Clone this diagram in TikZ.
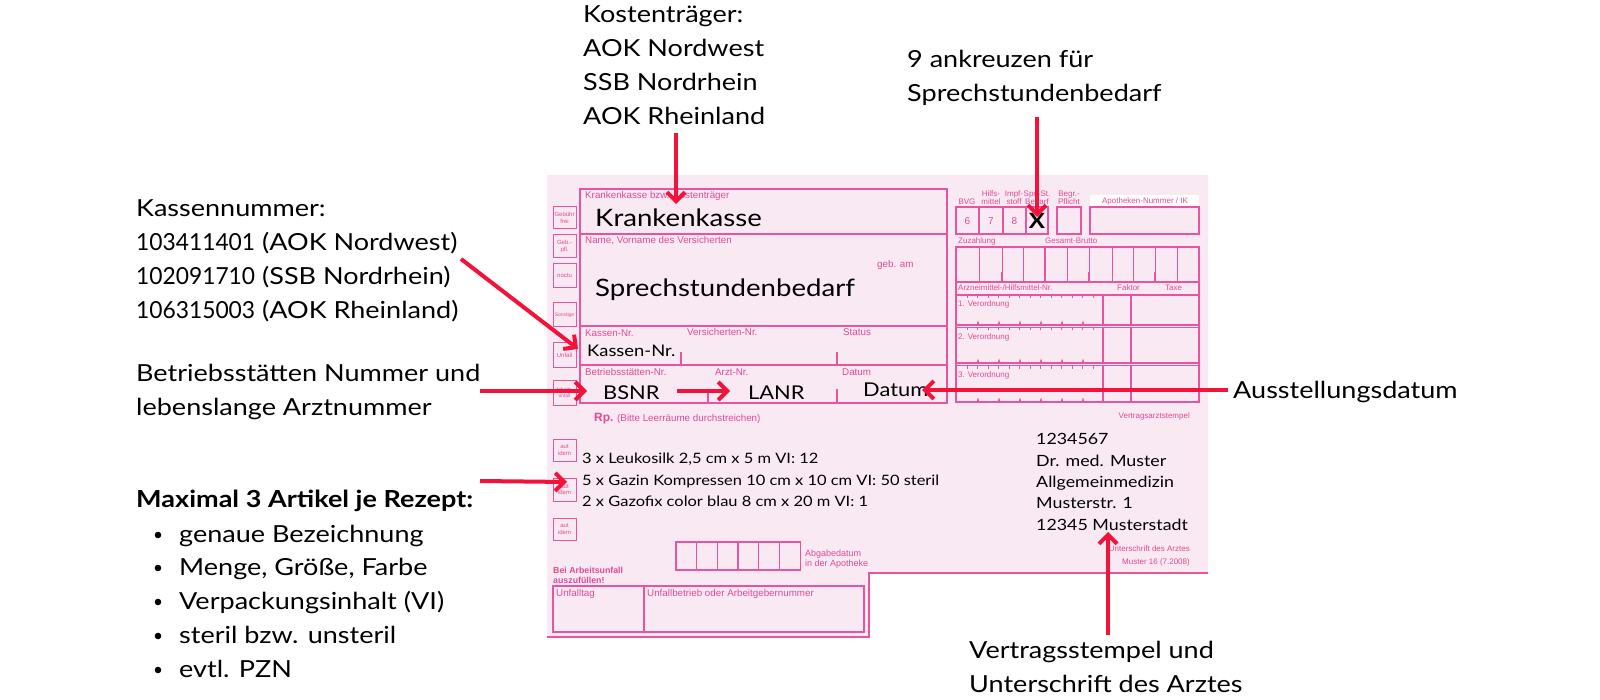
\documentclass[tikz,border=0pt]{standalone}
\usepackage{fontspec}
\setmainfont{Lato}[FakeStretch=1.15]
\newfontfamily\lnum{Lato}[FakeStretch=0.97]
\newfontfamily\formfont{Liberation Sans}
\usetikzlibrary{arrows.meta}
\definecolor{formbg}{RGB}{249,233,242}
\definecolor{formline}{RGB}{232,84,160}
\definecolor{formtext}{RGB}{226,74,150}
\definecolor{arrowred}{RGB}{242,18,58}
\begin{document}
\begin{tikzpicture}[x=1pt,y=-1pt,
  fl/.style={draw=formline,line width=1.3pt},
  flthin/.style={draw=formline,line width=0.8pt},
  flab/.style={font=\formfont\fontsize{9.8}{10.5}\selectfont,text=formtext,inner sep=0pt,anchor=base west},
  flabs/.style={font=\formfont\fontsize{8}{8.5}\selectfont,text=formtext,inner sep=0pt,anchor=base west},
  flabc/.style={font=\formfont\fontsize{8}{8.5}\selectfont,text=formtext,inner sep=0pt,align=center,anchor=base},
  sbox/.style={draw=formline,line width=1pt,inner sep=0pt,font=\formfont\fontsize{6}{6.5}\selectfont,text=formtext,align=center},
  ann/.style={font=\fontsize{23.5}{34}\selectfont,align=left,inner sep=0pt,anchor=base west},
  big/.style={font=\fontsize{24}{28}\selectfont,inner sep=0pt,anchor=base west},
  mid/.style={font=\fontsize{19}{24}\selectfont,inner sep=0pt,anchor=base west},
  rx/.style={font=\fontsize{14.3}{21.5}\selectfont,align=left,inner sep=0pt,anchor=base west},
  redarrow/.style={draw=arrowred,line width=4pt,-{Straight Barb[length=9pt,width=18pt]}},
]
\useasboundingbox (0,0) rectangle (1600,700);
\fill[white] (0,0) rectangle (1600,700);
% ---------- form background ----------
\fill[formbg] (547,175) -- (1208,175) -- (1208,573) -- (869,573) -- (869,637) -- (547,637) -- cycle;
\draw[fl,line width=1.8pt] (547,637) -- (869,637) -- (869,573) -- (1208,573);
% ---------- left column boxes ----------
\node[sbox,minimum width=23pt,minimum height=22pt] (b1) at (564.5,218) {Gebühr\\frei};
\node[sbox,minimum width=23pt,minimum height=23pt] (b2) at (564.5,246.5) {Geb.-\\pfl.};
\node[sbox,minimum width=23pt,minimum height=24pt] (b3) at (564.5,276) {noctu};
\node[sbox,minimum width=23pt,minimum height=24pt,font=\formfont\fontsize{5}{6}\selectfont] (b4) at (564.5,315) {Sonstige};
\node[sbox,minimum width=23pt,minimum height=24pt] (b5) at (564.5,355) {Unfall};
\node[sbox,minimum width=23pt,minimum height=25pt,font=\formfont\fontsize{5}{6}\selectfont] (b6) at (564.5,392.5) {Arbeits-\\unfall};
\node[sbox,minimum width=23pt,minimum height=22pt] (ai1) at (564.5,450) {aut\\idem};
\node[sbox,minimum width=23pt,minimum height=23pt] (ai2) at (564.5,489.5) {aut\\idem};
\node[sbox,minimum width=23pt,minimum height=22pt] (ai3) at (564.5,529) {aut\\idem};
% ---------- main left box ----------
\draw[fl] (580,189) rectangle (947,403);
\draw[fl] (580,234) -- (947,234);
\draw[fl] (580,326) -- (947,326);
\draw[fl] (580,365) -- (947,365);
\draw[fl] (681,352) -- (681,365);
\draw[fl] (837,352) -- (837,365);
\draw[fl] (708,389) -- (708,403);
\draw[fl] (837,389) -- (837,403);
\node[flab] (lkk) at (585,199) {Krankenkasse bzw. Kostenträger};
\node[flab] (lname) at (585,244) {Name, Vorname des Versicherten};
\node[flab] (lgeb) at (877,268) {geb. am};
\node[flab] (lkas) at (585,337) {Kassen-Nr.};
\node[flab] (lvers) at (687,336) {Versicherten-Nr.};
\node[flab] (lstat) at (843,336) {Status};
\node[flab] (lbs) at (585,375) {Betriebsstätten-Nr.};
\node[flab] (larzt) at (715,375) {Arzt-Nr.};
\node[flab] (ldat) at (842,375) {Datum};
\node[big] (tkk) at (595,227) {Krankenkasse};
\node[big] (tspr) at (595,297) {Sprechstundenbedarf};
\node[font=\fontsize{16}{20}\selectfont,inner sep=0pt,anchor=base west] (tkas) at (587,356) {Kassen-Nr.};
\node[mid] (tbsnr) at (603,399) {BSNR};
\node[mid] (tlanr) at (748,399) {LANR};
\node[mid] (tdat) at (863,396) {Datum};
% ---------- right column ----------
\foreach \x/\xx in {956/979,979/1003,1003/1026,1026/1048}{\draw[fl] (\x,207) rectangle (\xx,234);}
\draw[fl] (1057,207) rectangle (1081,234);
\draw[fl] (1090,207) rectangle (1199,234);
\node[flabc] (lbvg) at (967,205) {BVG};
\node[flabc] (lhilf) at (991,205) {Hilfs-\\mittel};
\node[flabc] (limpf) at (1014,205) {Impf-\\stoff};
\node[flabc] (lspr) at (1037,205) {Spr.-St.\\Bedarf};
\node[flabc] (lbegr) at (1069,205) {Begr.-\\Pflicht};
\fill[white] (1090,195) rectangle (1199,206);
\node[flabc] (lapo) at (1145,204) {Apotheken-Nummer / IK};
\node[font=\formfont\fontsize{10}{11}\selectfont,text=formtext,inner sep=0pt] (n6) at (967.5,221) {6};
\node[font=\formfont\fontsize{10}{11}\selectfont,text=formtext,inner sep=0pt] (n7) at (991,221) {7};
\node[font=\formfont\fontsize{10}{11}\selectfont,text=formtext,inner sep=0pt] (n8) at (1014.5,221) {8};
\node[font=\bfseries\fontsize{21}{22}\selectfont,inner sep=0pt] (xmark) at (1037,221) {X};
\node[flabs] (lzuz) at (958,244) {Zuzahlung};
\node[flabs] (lges) at (1045,244) {Gesamt-Brutto};
\draw[draw=formline,line width=2.2pt] (956,247) rectangle (1199,282);
\draw[draw=formline,line width=2.2pt] (1045,247) -- (1045,282);
\foreach \x in {979,1002,1023,1067,1089,1112,1133,1155,1177}{\draw[flthin] (\x,247) -- (\x,282);}
\foreach \x in {1002,1089,1155}{\draw[draw=formline,line width=2pt] (\x,272) -- (\x,282);}
\draw[fl] (956,282) -- (956,402);
\draw[fl] (1199,282) -- (1199,402);
\node[flabs] (larz) at (958,291) {Arzneimittel-/Hilfsmittel-Nr.};
\node[flabs] (lfak) at (1117,291) {Faktor};
\node[flabs] (ltax) at (1165,291) {Taxe};
\foreach \ya/\yb/\n in {295/325/1,327.5/363/2,365.5/402/3}{
  \draw[fl] (956,\ya) rectangle (1199,\yb);
  \draw[fl] (1103,\ya) -- (1103,\yb);
  \draw[fl] (1131,\ya) -- (1131,\yb);
  \node[flabs] at (958,\ya+12) {\n. Verordnung};
  \foreach \k in {0,...,12}{\draw[flthin] (967+10.5*\k,\ya) -- (967+10.5*\k,\ya+3);}
  \foreach \k in {0,...,5}{\fill[formline] (976.5+21*\k,\yb) -- (978+21*\k,\yb-4.5) -- (979.5+21*\k,\yb) -- cycle;}
}
\node[font=\formfont\fontsize{8}{8.5}\selectfont,text=formtext,inner sep=0pt,anchor=base east] (lvas) at (1190,418) {Vertragsarztstempel};
% ---------- Rp. ----------
\node[font=\formfont\bfseries\fontsize{12}{13}\selectfont,text=formtext,inner sep=0pt,anchor=base west] (rp) at (594,421) {Rp.};
\node[flab] (lbitte) at (617,421) {(Bitte Leerräume durchstreichen)};
\node[rx] (rx1) at (582,463) {3 x Leukosilk 2,5 cm x 5 m VI: 12};
\node[rx] (rx2) at (582,485) {5 x Gazin Kompressen 10 cm x 10 cm VI: 50 steril};
\node[rx] (rx3) at (582,506) {2 x Gazofix color blau 8 cm x 20 m VI: 1};
% stamp
\node[rx,font=\fontsize{15.5}{21.3}\selectfont] (stamp) at (1036,530) {1234567\\Dr. med. Muster\\Allgemeinmedizin\\Musterstr. 1\\12345 Musterstadt};
\node[font=\formfont\fontsize{8}{8.5}\selectfont,text=formtext,inner sep=0pt,anchor=base east] (lunt) at (1190,551) {Unterschrift des Arztes};
\node[font=\formfont\fontsize{8}{8.5}\selectfont,text=formtext,inner sep=0pt,anchor=base east] (lmus) at (1190,564) {Muster 16 (7.2008)};
% Abgabedatum
\foreach \k in {0,...,5}{\draw[fl] (676+20.7*\k,542) rectangle (676+20.7*\k+20.7,570);}
\node[flab,align=left,font=\formfont\fontsize{9}{9.8}\selectfont] (labg) at (805,566) {Abgabedatum\\in der Apotheke};
\node[font=\formfont\bfseries\fontsize{8.8}{10}\selectfont,text=formtext,inner sep=0pt,anchor=base west,align=left] (lbei) at (553,583) {Bei Arbeitsunfall\\auszufüllen!};
\draw[fl] (553,586) rectangle (864,632);
\draw[fl] (644,586) -- (644,632);
\node[flab] (lutag) at (556,596) {Unfalltag};
\node[flab] (lubet) at (647,596) {Unfallbetrieb oder Arbeitgebernummer};
% ---------- annotations ----------
\node[ann] (akost) at (583,124.5) {Kostenträger:\\AOK Nordwest\\SSB Nordrhein\\AOK Rheinland};
\node[ann] (aank) at (907,101.5) {9 ankreuzen für\\Sprechstundenbedarf};
\node[ann] (akas) at (136,319) {Kassennummer:\\{\lnum 103411401} (AOK Nordwest)\\{\lnum 102091710} (SSB Nordrhein)\\{\lnum 106315003} (AOK Rheinland)};
\node[ann] (abet) at (136,415.5) {Betriebsstätten Nummer und\\lebenslange Arztnummer};
\node[ann] (aaus) at (1233,398) {Ausstellungsdatum};
\node[ann,font=\bfseries\fontsize{23.5}{34}\selectfont] (amax) at (136,507) {Maximal 3 Artikel je Rezept:};
\foreach \t/\y [count=\i] in {genaue Bezeichnung/542,{Menge, Größe, Farbe}/575,Verpackungsinhalt (VI)/609,steril bzw. unsteril/643,evtl. PZN/677}{
  \fill (158,\y-7) circle (3.3pt);
  \node[ann] (bul\i) at (179,\y) {\t};
}
\node[ann] (aver) at (969,692) {Vertragsstempel und\\Unterschrift des Arztes};
% ---------- arrows ----------
\coordinate (pk1) at (676,133);
\coordinate (pk2) at (676,204);
\coordinate (pa1) at (1037,117);
\coordinate (pa2) at (1037,217);
\coordinate (pn1) at (461,259);
\coordinate (pn2) at (578,349);
\coordinate (pb1) at (480,391);
\coordinate (pb2) at (587,391);
\coordinate (pl1) at (677,391);
\coordinate (pl2) at (730,391);
\coordinate (pd1) at (1228,390);
\coordinate (pd2) at (922,390);
\coordinate (pm1) at (480,481);
\coordinate (pm2) at (567,482);
\coordinate (pv1) at (1108,635);
\coordinate (pv2) at (1108,532);
\draw[redarrow] (pk1) -- (pk2);
\draw[redarrow] (pa1) -- (pa2);
\draw[redarrow] (pn1) -- (pn2);
\draw[redarrow] (pb1) -- (pb2);
\draw[redarrow] (pl1) -- (pl2);
\draw[redarrow] (pd1) -- (pd2);
\draw[redarrow] (pm1) -- (pm2);
\draw[redarrow] (pv1) -- (pv2);
\end{tikzpicture}
\end{document}
